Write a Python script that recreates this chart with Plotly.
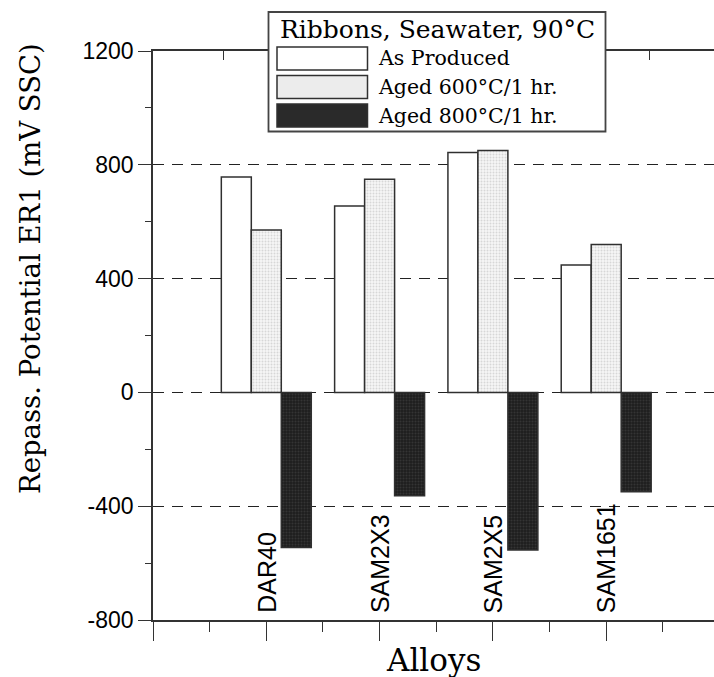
import plotly.graph_objects as go

# Alloys and repassivation potentials (mV SSC)
alloys = ["DAR40", "SAM2X3", "SAM2X5", "SAM1651"]
positions = [1, 2, 3, 4]
as_produced = [757, 655, 843, 448]
aged_600 = [571, 749, 850, 520]
aged_800 = [-545, -363, -554, -349]

series_names = ["As Produced", "Aged 600\u00b0C/1 hr.", "Aged 800\u00b0C/1 hr."]
legend_title = "Ribbons, Seawater, 90\u00b0C"
y_ticks = [-800, -400, 0, 400, 800, 1200]

W, H = 714, 677
L, R, T, B = 153, 0, 51, 57
PW, PH = W - L - R, H - T - B

SERIF = "DejaVu Serif"
SANS = "Liberation Sans, Arial"


def px(x):
    return (x - L) / PW


def py(y):
    return (H - B - y) / PH


styles = [
    dict(color="#ffffff"),
    dict(color="#ececec", pattern=dict(shape=".", fgcolor="#b8b8b8", bgcolor="#f6f6f6",
                                       size=3, solidity=0.35)),
    dict(color="#2a2a2a", pattern=dict(shape=".", fgcolor="#4a4a4a", bgcolor="#1e1e1e",
                                       size=3, solidity=0.35)),
]

fig = go.Figure()
for name, vals, st in zip(series_names, [as_produced, aged_600, aged_800], styles):
    marker = dict(color=st["color"], line=dict(color="#303030", width=1.5))
    if "pattern" in st:
        marker["pattern"] = st["pattern"]
    fig.add_trace(go.Bar(x=positions, y=vals, name=name, marker=marker,
                         showlegend=False))

# invisible trace so the top axis is drawn
fig.add_trace(go.Scatter(x=[0], y=[0], xaxis="x2", mode="markers",
                         marker=dict(opacity=0), showlegend=False, hoverinfo="skip"))

fig.update_layout(
    width=W, height=H,
    margin=dict(l=L, r=R, t=T, b=B),
    paper_bgcolor="white", plot_bgcolor="white",
    barmode="group", bargap=0.206, bargroupgap=0,
    xaxis=dict(range=[0, PW / 113.3], tick0=0, dtick=1, showticklabels=False,
               ticks="outside", ticklen=19, tickwidth=1.2, tickcolor="#333",
               minor=dict(dtick=0.5, ticks="outside", ticklen=10, tickcolor="#333",
                          tickwidth=1.2),
               showline=True, linecolor="#333", linewidth=1.5, mirror=True,
               showgrid=False, zeroline=False),
    xaxis2=dict(overlaying="x", side="top", range=[0, PW / 113.3],
                tickvals=[0.623, 1.875, 3.127, 4.38], ticks="inside", ticklen=9,
                tickcolor="#333", tickwidth=1.2, showticklabels=False,
                showline=False, showgrid=False, zeroline=False),
    yaxis=dict(range=[-800, 1200], tickvals=y_ticks,
               ticktext=[str(v) for v in y_ticks],
               ticks="outside", ticklen=13, tickwidth=1.2, tickcolor="#333",
               minor=dict(dtick=200, ticks="outside", ticklen=6, tickcolor="#333",
                          tickwidth=1.2),
               tickfont=dict(family=SANS, size=23, color="black"),
               showline=True, linecolor="#333", linewidth=1.5,
               showgrid=True, gridcolor="#222", gridwidth=1, griddash="11px,8px",
               zeroline=False),
)

annotations = []
# category labels standing on the x axis
for xp, name in zip(positions, alloys):
    annotations.append(dict(x=xp, y=0, xref="x", yref="paper", text=name,
                            textangle=-90, showarrow=False, xanchor="center",
                            yanchor="bottom", yshift=5,
                            font=dict(family=SANS, size=25, color="black")))

annotations.append(dict(x=0.5, y=py(660), xref="paper", yref="paper", text="Alloys",
                        showarrow=False, xanchor="center", yanchor="middle",
                        font=dict(family=SERIF, size=31, color="black")))
annotations.append(dict(x=px(30), y=py(269), xref="paper", yref="paper",
                        text="Repass. Potential ER1 (mV SSC)", textangle=-90,
                        showarrow=False, xanchor="center", yanchor="middle",
                        font=dict(family=SERIF, size=27.5, color="black")))

# legend box
shapes = [dict(type="rect", xref="paper", yref="paper", x0=px(268.5), x1=px(605.5),
               y0=py(131.5), y1=py(12), fillcolor="white",
               line=dict(color="#444", width=1.8), layer="above")]
annotations.append(dict(x=px(437), y=py(30), xref="paper", yref="paper",
                        text=legend_title, showarrow=False, xanchor="center",
                        yanchor="middle", font=dict(family=SERIF, size=25, color="black")))
row_centers = [58.5, 87, 115.5]
for yc, name, st in zip(row_centers, series_names, styles):
    shp = dict(type="rect", xref="paper", yref="paper", x0=px(277), x1=px(367.5),
               y0=py(yc + 11.5), y1=py(yc - 11.5), fillcolor=st["color"],
               line=dict(color="#303030", width=1.5), layer="above")
    shapes.append(shp)
    annotations.append(dict(x=px(376), y=py(yc), xref="paper", yref="paper",
                            text=name, showarrow=False, xanchor="left",
                            yanchor="middle",
                            font=dict(family=SERIF, size=20.5, color="black")))

fig.update_layout(shapes=shapes, annotations=annotations)

fig.write_html("out.html")
